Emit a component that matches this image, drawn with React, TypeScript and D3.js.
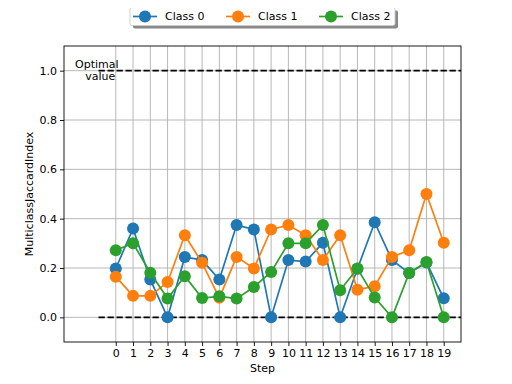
import React, { useEffect, useRef } from 'react';
import * as d3 from 'd3';

const steps = d3.range(0, 20);
const classNames = ['Class 0', 'Class 1', 'Class 2'];
const colors = ['#1f77b4', '#ff7f0e', '#2ca02c'];

const class0 = [0.198, 0.36, 0.153, 0, 0.245, 0.232, 0.153, 0.374, 0.356, 0, 0.232, 0.226, 0.302, 0, 0.197, 0.385, 0.232, 0.18, 0.222, 0.077];
const class1 = [0.165, 0.087, 0.087, 0.143, 0.333, 0.221, 0.079, 0.245, 0.198, 0.356, 0.374, 0.333, 0.232, 0.333, 0.112, 0.126, 0.245, 0.272, 0.5, 0.302];
const class2 = [0.272, 0.3, 0.181, 0.076, 0.167, 0.078, 0.085, 0.076, 0.123, 0.184, 0.3, 0.3, 0.374, 0.11, 0.198, 0.08, 0, 0.18, 0.224, 0];
const series = [class0, class1, class2];

const yTicks = [0, 0.2, 0.4, 0.6, 0.8, 1.0];
const optimalLines = [0, 1];

const W = 512;
const H = 384;
const FONT = 'DejaVu Sans, sans-serif';

const App = () => {
  const ref = useRef<SVGSVGElement>(null);

  useEffect(() => {
    const svg = d3.select(ref.current);
    svg.selectAll('*').remove();

    const margin = { top: 46, right: 51, bottom: 42, left: 64 };
    const x = d3.scaleLinear().domain([-3, 20]).range([margin.left, W - margin.right]);
    const y = d3.scaleLinear().domain([-0.1, 1.1]).range([H - margin.bottom, margin.top]);

    svg.append('rect').attr('width', W).attr('height', H).attr('fill', '#fff');

    // grid
    svg.append('g')
      .selectAll('line')
      .data(steps)
      .enter().append('line')
      .attr('x1', d => x(d)).attr('x2', d => x(d))
      .attr('y1', y(-0.1)).attr('y2', y(1.1))
      .attr('stroke', '#b0b0b0').attr('stroke-width', 0.9);
    svg.append('g')
      .selectAll('line')
      .data(yTicks)
      .enter().append('line')
      .attr('x1', x(-3)).attr('x2', x(20))
      .attr('y1', d => y(d)).attr('y2', d => y(d))
      .attr('stroke', '#b0b0b0').attr('stroke-width', 0.9);

    // optimal dashed lines
    svg.append('g')
      .selectAll('line')
      .data(optimalLines)
      .enter().append('line')
      .attr('x1', x(-1)).attr('x2', x(20))
      .attr('y1', d => y(d)).attr('y2', d => y(d))
      .attr('stroke', '#000').attr('stroke-width', 1.7)
      .attr('stroke-dasharray', '6.3,2.7');

    svg.append('text')
      .attr('x', x(-1.1)).attr('y', y(1.0) - 3)
      .attr('text-anchor', 'middle')
      .style('font-family', FONT).style('font-size', '11px')
      .selectAll('tspan')
      .data(['Optimal', 'value'])
      .enter().append('tspan')
      .attr('x', (d, i) => x(-1.1) + (i === 0 ? 0 : 3.5))
      .attr('dy', (d, i) => (i === 0 ? 0 : 12))
      .text(d => d);

    // series
    const line = d3.line<number>().x((d, i) => x(steps[i])).y(d => y(d));
    series.forEach((vals, k) => {
      svg.append('path')
        .datum(vals)
        .attr('d', line)
        .attr('fill', 'none')
        .attr('stroke', colors[k])
        .attr('stroke-width', 1.7);
      svg.append('g')
        .selectAll('circle')
        .data(vals)
        .enter().append('circle')
        .attr('cx', (d, i) => x(steps[i]))
        .attr('cy', d => y(d))
        .attr('r', 6)
        .attr('fill', colors[k]);
    });

    // axes frame
    svg.append('rect')
      .attr('x', x(-3)).attr('y', y(1.1))
      .attr('width', x(20) - x(-3)).attr('height', y(-0.1) - y(1.1))
      .attr('fill', 'none').attr('stroke', '#000').attr('stroke-width', 0.9);

    const xAxis = svg.append('g')
      .attr('transform', `translate(0,${y(-0.1)})`)
      .call(d3.axisBottom(x).tickValues(steps).tickFormat(d3.format('d')).tickSize(4).tickPadding(3));
    const yAxis = svg.append('g')
      .attr('transform', `translate(${x(-3)},0)`)
      .call(d3.axisLeft(y).tickValues(yTicks).tickFormat(d3.format('.1f')).tickSize(4).tickPadding(3));
    [xAxis, yAxis].forEach(a => {
      a.select('.domain').remove();
      a.selectAll('text').style('font-family', FONT).style('font-size', '11px').attr('fill', '#000');
      a.selectAll('line').attr('stroke', '#000').attr('stroke-width', 0.9);
    });

    svg.append('text')
      .attr('x', (x(-3) + x(20)) / 2).attr('y', H - 12)
      .attr('text-anchor', 'middle')
      .style('font-family', FONT).style('font-size', '11px')
      .text('Step');
    svg.append('text')
      .attr('transform', `translate(33,${(y(-0.1) + y(1.1)) / 2}) rotate(-90)`)
      .attr('text-anchor', 'middle')
      .style('font-family', FONT).style('font-size', '11px')
      .text('MulticlassJaccardIndex');

    // legend
    const lg = svg.append('g').attr('transform', 'translate(130,7.5)');
    lg.append('rect').attr('x', 3).attr('y', 3).attr('width', 265).attr('height', 18).attr('fill', '#888').attr('rx', 2);
    lg.append('rect').attr('width', 265).attr('height', 18).attr('fill', '#fff').attr('stroke', '#ccc').attr('stroke-width', 0.9).attr('rx', 2);
    const spacing = [0, 93, 186];
    classNames.forEach((name, k) => {
      const g = lg.append('g').attr('transform', `translate(${3 + spacing[k]},9)`);
      g.append('line').attr('x1', 0).attr('x2', 24).attr('stroke', colors[k]).attr('stroke-width', 1.7);
      g.append('circle').attr('cx', 12).attr('r', 6).attr('fill', colors[k]);
      g.append('text').attr('x', 32).attr('dy', '0.35em')
        .style('font-family', FONT).style('font-size', '11px').text(name);
    });
  }, []);

  return <svg ref={ref} width={W} height={H} style={{ display: 'block', margin: '-8px' }} />;
};

export default App;
